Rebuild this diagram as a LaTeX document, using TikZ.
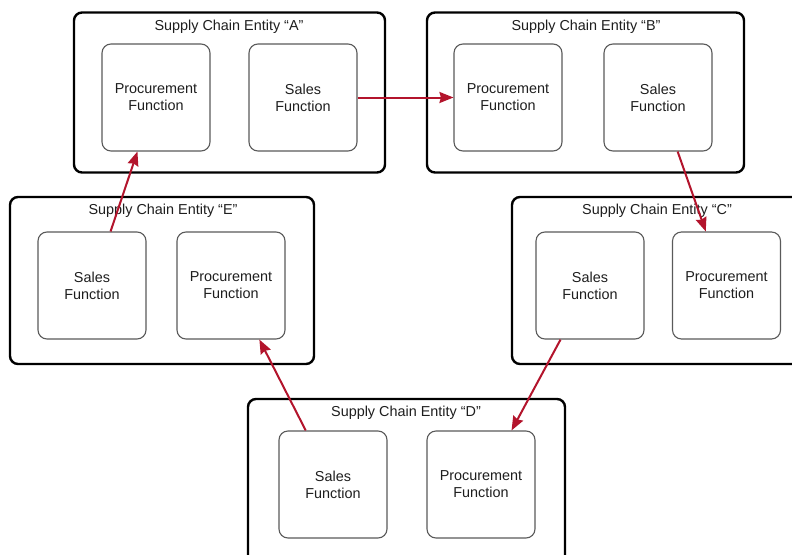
\documentclass[tikz,border=0pt]{standalone}
\usepackage{fontspec}
\setmainfont{Liberation Sans}
\usetikzlibrary{arrows.meta,calc}
\definecolor{flowred}{HTML}{B3142C}
\definecolor{fnborder}{HTML}{5A5A5A}
\definecolor{txt}{HTML}{1E1E1E}
\tikzset{
  entity/.style={draw=black,line width=2.4pt,rounded corners=8pt,
    rectangle,inner sep=0pt},
  fnbox/.style={draw=fnborder,line width=1.1pt,rounded corners=9pt,
    rectangle,minimum width=108pt,minimum height=107pt,inner sep=0pt,
    align=center,text=txt,font=\fontsize{14.4}{17}\selectfont},
  etitle/.style={text=txt,font=\fontsize{14.4}{17}\selectfont,inner sep=0pt},
  flow/.style={draw=flowred,line width=2pt,
    -{Stealth[length=14pt,width=11pt,inset=1.5pt]}},
}
\begin{document}
\begin{tikzpicture}[x=1pt,y=-1pt]
\useasboundingbox (0,0) rectangle (792,554);
\clip (0,0) rectangle (792,554);
\fill[white] (0,0) rectangle (792,554);

% entity frames
\node[entity,minimum width=311pt,minimum height=160pt] (entA) at (229.5,92.5) {};
\node[entity,minimum width=317pt,minimum height=160pt] (entB) at (585.5,92.5) {};
\node[entity,minimum width=304pt,minimum height=167pt] (entE) at (162,280.5) {};
\node[entity,minimum width=292pt,minimum height=167pt] (entC) at (658,280.5) {};
\node[entity,minimum width=317pt,minimum height=170pt] (entD) at (406.5,484) {};

% entity titles
\node[etitle] (tA) at (229,27) {Supply Chain Entity “A”};
\node[etitle] (tB) at (586,27) {Supply Chain Entity “B”};
\node[etitle] (tE) at (163,211) {Supply Chain Entity “E”};
\node[etitle] (tC) at (657,211) {Supply Chain Entity “C”};
\node[etitle] (tD) at (406,413) {Supply Chain Entity “D”};

% functions
\node[fnbox] (procA) at (156,97.5) {Procurement\\Function};
\node[fnbox] (salesA) at (303,97.5) {Sales\\Function};
\node[fnbox] (procB) at (508,97.5) {Procurement\\Function};
\node[fnbox] (salesB) at (658,97.5) {Sales\\Function};
\node[fnbox] (salesE) at (92,285.5) {Sales\\Function};
\node[fnbox] (procE) at (231,285.5) {Procurement\\Function};
\node[fnbox] (salesC) at (590,285.5) {Sales\\Function};
\node[fnbox] (procC) at (726.5,285.5) {Procurement\\Function};
\node[fnbox] (salesD) at (333,484.5) {Sales\\Function};
\node[fnbox] (procD) at (481,484.5) {Procurement\\Function};

% flows from sales to the next procurement
\draw[flow] (salesA.east) -- (procB.west);
\draw[flow] ($(salesB.south west)!0.68!(salesB.south east)$) -- ($(procC.north west)!0.31!(procC.north east)$);
\draw[flow] ($(salesC.south west)!0.23!(salesC.south east)$) -- ($(procD.north west)!0.78!(procD.north east)$);
\draw[flow] ($(salesD.north west)!0.25!(salesD.north east)$) -- ($(procE.south west)!0.76!(procE.south east)$);
\draw[flow] ($(salesE.north west)!0.67!(salesE.north east)$) -- ($(procA.south west)!0.33!(procA.south east)$);
\end{tikzpicture}
\end{document}
